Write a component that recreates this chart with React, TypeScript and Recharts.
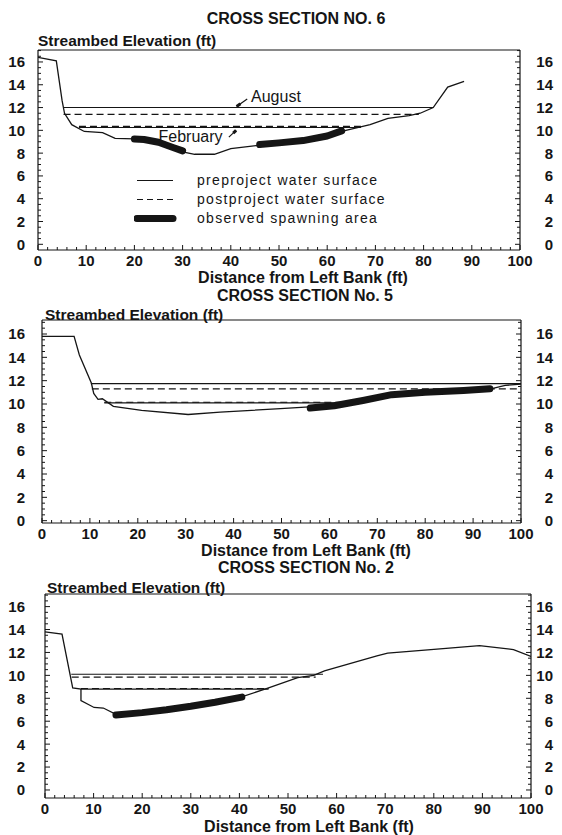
import { ComposedChart, Legend, Line, ReferenceDot, ReferenceLine, XAxis, YAxis } from 'recharts';

const FONT = '"Liberation Sans", Arial, Helvetica, sans-serif';
const INK = '#151515';

const X_LABELS = [0, 10, 20, 30, 40, 50, 60, 70, 80, 90, 100];
const Y_LABELS = [0, 2, 4, 6, 8, 10, 12, 14, 16];
const X_MINOR_STEP = 2;
const Y_MINOR_STEP = 0.5;

// Cross section No. 6 — streambed profile
const BED6_X = [0, 3.8, 5, 5.5, 7, 9.6, 13.4, 16, 20, 25, 30, 32.5, 36.6, 40, 46, 51.6, 56.9, 63, 68.9, 72.6, 77, 79.3, 82, 85, 88.4];
const BED6_Y = [16.4, 16.1, 12.6, 11.5, 10.5, 9.9, 9.8, 9.3, 9.25, 8.9, 8.1, 7.9, 7.9, 8.4, 8.7, 8.9, 9.2, 9.9, 10.5, 11.05, 11.3, 11.5, 12.0, 13.8, 14.3];
const SPAWN6A_X = [20, 22, 25, 28, 30];
const SPAWN6A_Y = [9.25, 9.2, 8.95, 8.5, 8.2];
const SPAWN6B_X = [46, 50, 55, 60, 63];
const SPAWN6B_Y = [8.75, 8.9, 9.1, 9.5, 9.95];
// water surfaces: [from ft, to ft, elevation ft] — August, February
const PRE6: [number, number, number][] = [[5.2, 82, 12.0], [8.5, 67, 10.25]];
const POST6: [number, number, number][] = [[5.3, 79, 11.4], [8.5, 67, 10.35]];

// Cross section No. 5
const BED5_X = [0, 6.7, 7.8, 10.3, 10.8, 11.7, 12.6, 14.9, 20.8, 30.5, 37.2, 49.8, 55.8, 61, 67, 72.9, 80.3, 93.7, 96.7, 100];
const BED5_Y = [15.8, 15.8, 14.2, 11.8, 10.9, 10.4, 10.45, 9.8, 9.45, 9.1, 9.3, 9.6, 9.75, 9.9, 10.3, 10.8, 11.05, 11.3, 11.6, 11.7];
const SPAWN5_X = [56, 61, 67, 73, 80, 88, 93.5];
const SPAWN5_Y = [9.65, 9.85, 10.3, 10.8, 11.0, 11.15, 11.3];
const PRE5: [number, number, number][] = [[10.2, 100, 11.75], [13, 63, 10.1]];
const POST5: [number, number, number][] = [[10.4, 100, 11.3], [13, 64, 10.15]];

// Cross section No. 2
const BED2_X = [0, 3.5, 5.7, 7.4, 7.4, 10.1, 12, 14.6, 20, 30, 40.3, 46, 52, 55.3, 57.5, 68.3, 70.5, 79.4, 89.4, 96.4, 100];
const BED2_Y = [13.8, 13.6, 8.9, 8.8, 7.8, 7.2, 7.15, 6.6, 6.75, 7.3, 8.1, 8.9, 9.8, 10.0, 10.4, 11.7, 11.95, 12.25, 12.6, 12.25, 11.65];
const SPAWN2_X = [14.6, 20, 25, 30, 35, 40.5];
const SPAWN2_Y = [6.55, 6.75, 7.0, 7.3, 7.65, 8.1];
const PRE2: [number, number, number][] = [[5.4, 57.2, 10.1], [7.4, 46, 8.8]];
const POST2: [number, number, number][] = [[5.5, 55.7, 9.85], [7.4, 46, 8.85]];

type Seg = [number, number, number];
const pts = (xs: number[], ys: number[]) => xs.map((x, i) => ({ x, y: ys[i] }));
const flat = ([a, b, y]: Seg) => [{ x: a, y }, { x: b, y }];

const stepTicks = (hi: number, step: number) => {
  const t: number[] = [];
  for (let v = 0; v <= hi + 1e-9; v += step) t.push(Math.round(v * 100) / 100);
  return t;
};
const X_TICKS = stepTicks(100, X_MINOR_STEP);

const labelStyle = { fontFamily: FONT, fontWeight: 700, fontSize: 15, fill: INK };

const leftTick = (edge: number) => (p: any) => {
  const { x, y, payload } = p;
  const major = Y_LABELS.includes(payload.value);
  return (
    <g>
      <line x1={x} x2={x + (major ? 5 : 3)} y1={y} y2={y} stroke={INK} strokeWidth={1} />
      {major && (
        <text x={x - edge} y={y} dy="0.36em" textAnchor="end" {...labelStyle}>
          {payload.value}
        </text>
      )}
    </g>
  );
};

const rightTick = (edge: number) => (p: any) => {
  const { x, y, payload } = p;
  const major = Y_LABELS.includes(payload.value);
  return (
    <g>
      <line x1={x} x2={x - (major ? 5 : 3)} y1={y} y2={y} stroke={INK} strokeWidth={1} />
      {major && (
        <text x={x + edge} y={y} dy="0.36em" textAnchor="end" {...labelStyle}>
          {payload.value}
        </text>
      )}
    </g>
  );
};

const bottomTick = (p: any) => {
  const { x, y, payload } = p;
  const major = X_LABELS.includes(payload.value);
  return (
    <g>
      <line x1={x} x2={x} y1={y} y2={y - (major ? 5 : 3)} stroke={INK} strokeWidth={1} />
      {major && (
        <text x={x} y={y + 11} dy="0.36em" textAnchor="middle" {...labelStyle}>
          {payload.value}
        </text>
      )}
    </g>
  );
};

function LegendBox() {
  const rows = [
    { label: 'preproject water surface', w: 1.2, dash: undefined as string | undefined },
    { label: 'postproject water surface', w: 1.2, dash: '6 4' },
    { label: 'observed spawning area', w: 7, dash: undefined },
  ];
  return (
    <div>
      {rows.map((r) => (
        <div key={r.label} style={{ display: 'flex', alignItems: 'center', height: 19 }}>
          <svg width={63} height={19}>
            <line x1={3} x2={39} y1={9.5} y2={9.5} stroke={INK} strokeWidth={r.w} strokeDasharray={r.dash} strokeLinecap={r.w > 3 ? 'round' : 'butt'} />
          </svg>
          <span style={{ fontFamily: FONT, fontSize: 14, letterSpacing: 1.3, color: INK }}>{r.label}</span>
        </div>
      ))}
    </div>
  );
}

type PanelProps = {
  plotLeft: number;
  plotRight: number;
  plotTop: number;
  plotBottom: number;
  yMin: number;
  yMax: number;
  bed: { x: number; y: number }[];
  spawn: { x: number; y: number }[][];
  pre: Seg[];
  post: Seg[];
  legend?: boolean;
  notes?: boolean;
};

function Panel(props: PanelProps) {
  const { plotLeft, plotRight, plotTop, plotBottom, yMin, yMax } = props;
  const chartTop = plotTop - 6;
  const height = plotBottom - chartTop + 30;
  const yTicks = stepTicks(yMax, Y_MINOR_STEP);
  const common = { dot: false, activeDot: false, isAnimationActive: false, legendType: 'none' as const };
  const note = { fill: INK, fontSize: 16, fontFamily: FONT };
  return (
    <div style={{ position: 'absolute', left: 0, top: chartTop }}>
      <ComposedChart
        width={562}
        height={height}
        margin={{ top: 6, left: plotLeft - 30, right: 562 - plotRight - 25, bottom: 0 }}
      >
        <XAxis
          dataKey="x"
          type="number"
          domain={[0, 100]}
          allowDataOverflow
          ticks={X_TICKS}
          interval={0}
          height={30}
          tickSize={0}
          tickMargin={0}
          tick={bottomTick}
          axisLine={{ stroke: INK, strokeWidth: 1.2 }}
        />
        <YAxis
          type="number"
          domain={[yMin, yMax]}
          allowDataOverflow
          ticks={yTicks}
          interval={0}
          width={30}
          tickSize={0}
          tickMargin={0}
          tick={leftTick(plotLeft - 25)}
          axisLine={{ stroke: INK, strokeWidth: 1.2 }}
        />
        <YAxis
          yAxisId="r"
          orientation="right"
          type="number"
          domain={[yMin, yMax]}
          allowDataOverflow
          ticks={yTicks}
          interval={0}
          width={25}
          tickSize={0}
          tickMargin={0}
          tick={rightTick(553 - plotRight)}
          axisLine={{ stroke: INK, strokeWidth: 1.2 }}
        />
        <ReferenceLine y={yMax} stroke={INK} strokeWidth={1.2} />
        {props.pre.map((s, i) => (
          <Line key={'pre' + i} data={flat(s)} dataKey="y" stroke={INK} strokeWidth={1.1} {...common} />
        ))}
        {props.post.map((s, i) => (
          <Line key={'post' + i} data={flat(s)} dataKey="y" stroke={INK} strokeWidth={1.1} strokeDasharray="7 4" {...common} />
        ))}
        <Line data={props.bed} dataKey="y" stroke={INK} strokeWidth={1.3} {...common} />
        {props.spawn.map((s, i) => (
          <Line key={'sp' + i} data={s} dataKey="y" stroke={INK} strokeWidth={7} strokeLinecap="round" strokeLinejoin="round" {...common} />
        ))}
        {props.notes && (
          <ReferenceDot x={44.2} y={13.0} r={0} label={{ value: 'August', position: 'right', offset: 0, ...note }} />
        )}
        {props.notes && (
          <ReferenceLine segment={[{ x: 43.4, y: 12.75 }, { x: 41.2, y: 12.1 }]} stroke={INK} strokeWidth={1.2} />
        )}
        {props.notes && (
          <ReferenceLine segment={[{ x: 42.0, y: 12.33 }, { x: 41.2, y: 12.1 }]} stroke={INK} strokeWidth={3} />
        )}
        {props.notes && (
          <ReferenceDot x={25} y={9.45} r={0} label={{ value: 'February', position: 'right', offset: 0, ...note }} />
        )}
        {props.notes && (
          <ReferenceLine segment={[{ x: 39.6, y: 9.4 }, { x: 41.1, y: 10.0 }]} stroke={INK} strokeWidth={1.2} />
        )}
        {props.notes && (
          <ReferenceLine segment={[{ x: 40.5, y: 9.76 }, { x: 41.1, y: 10.0 }]} stroke={INK} strokeWidth={3} />
        )}
        {props.legend && (
          <Legend
            layout="vertical"
            align="center"
            verticalAlign="middle"
            content={() => <LegendBox />}
            wrapperStyle={{ left: 134, top: 170.5 - chartTop, width: 320 }}
          />
        )}
      </ComposedChart>
    </div>
  );
}

const TITLE = { fontFamily: FONT, fontWeight: 700, fill: INK };

export default function App() {
  return (
    <div style={{ position: 'absolute', left: 0, top: 0, width: 562, height: 835, background: '#fff' }}>
      <Panel
        plotLeft={38}
        plotRight={520}
        plotTop={50}
        plotBottom={250}
        yMin={-0.5}
        yMax={17.05}
        bed={pts(BED6_X, BED6_Y)}
        spawn={[pts(SPAWN6A_X, SPAWN6A_Y), pts(SPAWN6B_X, SPAWN6B_Y)]}
        pre={PRE6}
        post={POST6}
        legend
        notes
      />
      <Panel
        plotLeft={42}
        plotRight={521}
        plotTop={320}
        plotBottom={523}
        yMin={-0.2}
        yMax={17.2}
        bed={pts(BED5_X, BED5_Y)}
        spawn={[pts(SPAWN5_X, SPAWN5_Y)]}
        pre={PRE5}
        post={POST5}
      />
      <Panel
        plotLeft={45}
        plotRight={531}
        plotTop={594}
        plotBottom={798}
        yMin={-0.7}
        yMax={17.1}
        bed={pts(BED2_X, BED2_Y)}
        spawn={[pts(SPAWN2_X, SPAWN2_Y)]}
        pre={PRE2}
        post={POST2}
      />
      <svg width={562} height={835} style={{ position: 'absolute', left: 0, top: 0, pointerEvents: 'none' }}>
        <text x={296} y={18} dy="0.36em" textAnchor="middle" fontSize={16} {...TITLE}>CROSS SECTION NO. 6</text>
        <text x={38} y={40} dy="0.36em" fontSize={15.5} {...TITLE}>Streambed Elevation (ft)</text>
        <text x={303} y={277} dy="0.36em" textAnchor="middle" fontSize={16} {...TITLE}>Distance from Left Bank (ft)</text>

        <text x={305} y={295} dy="0.36em" textAnchor="middle" fontSize={16} {...TITLE}>CROSS SECTION No. 5</text>
        <text x={45} y={314} dy="0.36em" fontSize={15.5} {...TITLE}>Streambed Elevation (ft)</text>
        <text x={306} y={550} dy="0.36em" textAnchor="middle" fontSize={16} {...TITLE}>Distance from Left Bank (ft)</text>

        <text x={306} y={567} dy="0.36em" textAnchor="middle" fontSize={16} {...TITLE}>CROSS SECTION No. 2</text>
        <text x={47} y={587} dy="0.36em" fontSize={15.5} {...TITLE}>Streambed Elevation (ft)</text>
        <text x={309} y={826} dy="0.36em" textAnchor="middle" fontSize={16} {...TITLE}>Distance from Left Bank (ft)</text>
      </svg>
    </div>
  );
}
